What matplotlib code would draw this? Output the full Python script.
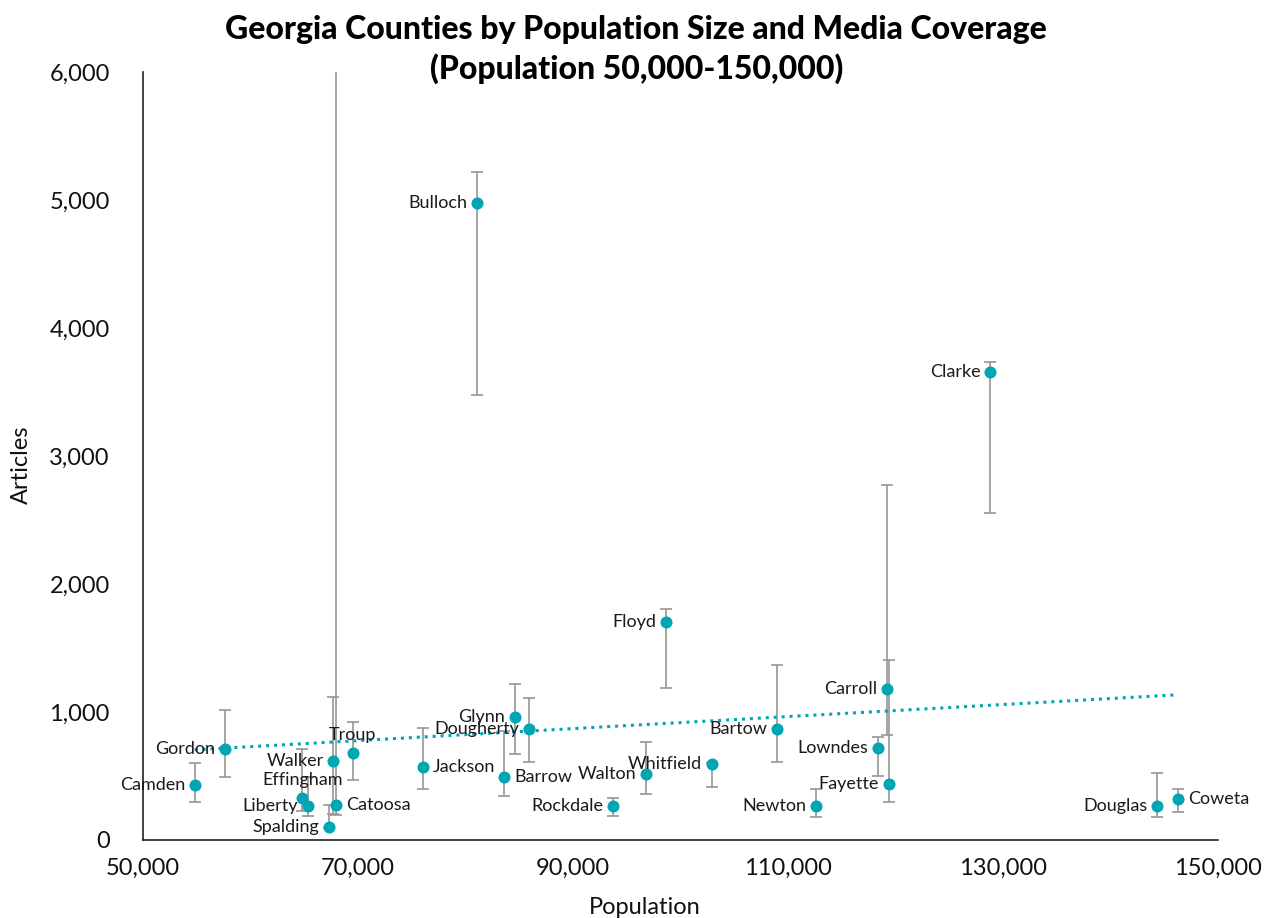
import numpy as np
import matplotlib
matplotlib.use("Agg")
import matplotlib.pyplot as plt
from matplotlib.ticker import FuncFormatter

plt.rcParams['font.family'] = ['Lato', 'DejaVu Sans']

# County data: population, article counts and error-bar bounds
counties = ["Camden", "Gordon", "Effingham", "Liberty", "Spalding", "Walker",
            "Catoosa", "Troup", "Jackson", "Bulloch", "Barrow", "Glynn",
            "Dougherty", "Rockdale", "Walton", "Floyd", "Whitfield", "Bartow",
            "Newton", "Lowndes", "Carroll", "Fayette", "Clarke", "Douglas",
            "Coweta"]
population = [54800, 57600, 64800, 65300, 67300, 67700,
              67950, 69500, 76000, 81100, 83600, 84600,
              85900, 93700, 96800, 98650, 102900, 109000,
              112600, 118400, 119250, 119350, 128800, 144350,
              146300]
articles = [430, 710, 331, 268, 104, 617,
            273, 677, 570, 4974, 492, 960,
            868, 268, 518, 1703, 594, 867,
            263, 719, 1177, 437, 3659, 268,
            318]
err_low = [300, 492, 229, 188, 95, 200,
           195, 469, 398, 3479, 341, 670,
           610, 188, 357, 1188, 411, 607,
           182, 500, 820, 300, 2557, 182,
           221]
err_high = [604, 1016, 708, 490, 273, 1120,
            7500, 924, 877, 5221, 850, 1219,
            1110, 326, 768, 1805, 600, 1367,
            398, 807, 2777, 1403, 3737, 526,
            398]
label_side = ["left", "left", "above", "left", "left", "left",
              "right", "above", "right", "left", "right", "left",
              "left", "left", "left", "left", "left", "left",
              "left", "left", "left", "left", "left", "left",
              "right"]

x_ticks = [50000, 70000, 90000, 110000, 130000, 150000]
y_ticks = [0, 1000, 2000, 3000, 4000, 5000, 6000]

TEAL = "#00A6B2"
GRAY = "#969696"

fig = plt.figure(figsize=(12.75, 9.18), dpi=100)
ax = fig.add_axes([0.1122, 0.085, 0.8431, 0.8366])

x = np.array(population, dtype=float)
y = np.array(articles, dtype=float)
lo = y - np.array(err_low, dtype=float)
hi = np.array(err_high, dtype=float) - y

ax.errorbar(x, y, yerr=[lo, hi], fmt="none", ecolor=GRAY, elinewidth=1.2,
            capsize=4, capthick=1.2, zorder=2)

# Linear trendline across the data range
slope, intercept = np.polyfit(x, y, 1)
xt = np.array([x.min(), x.max()])
ax.plot(xt, slope * xt + intercept, color=TEAL, linestyle=(0, (1, 1.6)),
        linewidth=2.2, zorder=3)

ax.scatter(x, y, s=75, color=TEAL, zorder=4, linewidths=0)

for name, px, py, side in zip(counties, x, y, label_side):
    if side == "left":
        off, ha, va = (-7, 0), "right", "center"
    elif side == "right":
        off, ha, va = (7, 0), "left", "center"
    else:
        off, ha, va = (0, 13), "center", "center"
    ax.annotate(name, (px, py), xytext=off, textcoords="offset points",
                ha=ha, va=va, fontsize=13, color="#1a1a1a", zorder=5)

ax.set_xlim(50000, 150000)
ax.set_ylim(0, 6000)
ax.set_xticks(x_ticks)
ax.set_yticks(y_ticks)
fmt = FuncFormatter(lambda v, p: f"{int(v):,}")
ax.xaxis.set_major_formatter(fmt)
ax.yaxis.set_major_formatter(fmt)
ax.tick_params(axis="both", length=0, labelsize=17, colors="#111111")
ax.tick_params(axis="y", pad=24)
ax.tick_params(axis="x", pad=13)

for s in ["top", "right"]:
    ax.spines[s].set_visible(False)
for s in ["left", "bottom"]:
    ax.spines[s].set_color("#222222")
    ax.spines[s].set_linewidth(1.2)

ax.set_xlabel("Population", fontsize=17, labelpad=8, color="#111111")
ax.xaxis.set_label_coords(0.467, -0.074)
ax.set_ylabel("Articles", fontsize=17, labelpad=10, color="#111111")
ax.yaxis.set_label_coords(-0.103, 0.488)

fig.text(0.499, 0.984, "Georgia Counties by Population Size and Media Coverage\n(Population 50,000-150,000)",
         ha="center", va="top", fontsize=23, fontweight="black",
         linespacing=1.38, color="#000000")

fig.savefig("out.png", dpi=100)
